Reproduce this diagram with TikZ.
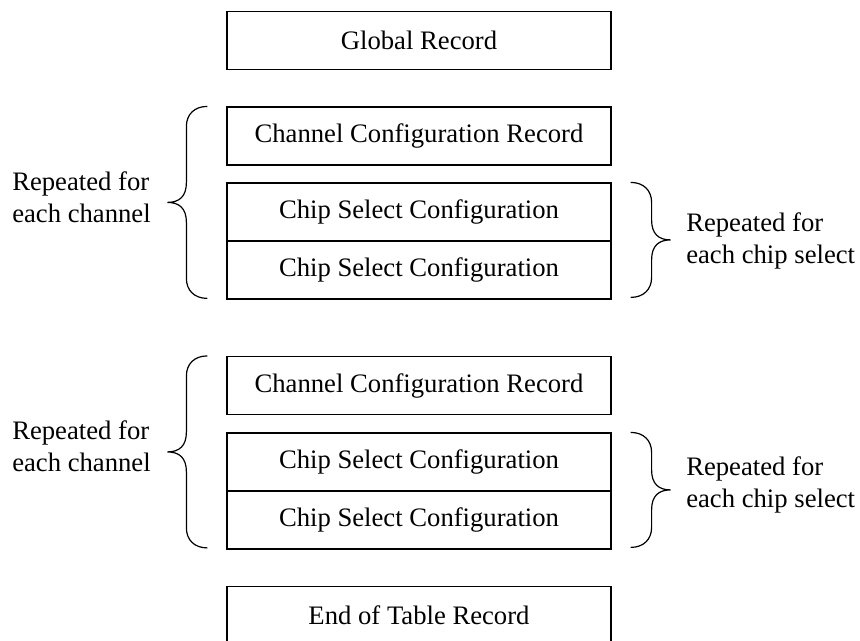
\documentclass[tikz,border=0pt]{standalone}
\usepackage{fontspec}
\setmainfont{Liberation Serif}

\begin{document}
\begin{tikzpicture}[x=0.75pt, y=-0.75pt,
  record/.style={draw, line width=0.9pt, minimum width=288pt, minimum height=43.5pt,
    inner sep=0pt, font=\fontsize{20}{24}\selectfont},
  note/.style={align=left, anchor=west, inner sep=0pt, font=\fontsize{20}{24}\selectfont},
  curly/.style={line width=0.9pt},
  % a curly brace drawn downward from its top end, opening towards +x;
  % #1 is the length of each straight stretch
  curlbrace/.style={insert path={
    .. controls +(-13,0) and +(0,-12) .. ++(-21,20)
    -- ++(0,#1)
    .. controls +(0,14) and +(12,0) .. ++(-19,20)
    .. controls +(12,0) and +(0,-14) .. ++(19,20)
    -- ++(0,#1)
    .. controls +(0,12) and +(-13,0) .. ++(21,20)}}]
  \useasboundingbox (0,0) rectangle (860,640);

  % record boxes
  \node[record] (glob) at (419,40.5) {Global Record};

  \node[record] (ch1)  at (419,136) {Channel Configuration Record};
  \node[record] (cs1a) at (419,212) {Chip Select Configuration};
  \node[record] (cs1b) at (419,270) {Chip Select Configuration};

  \node[record] (ch2)  at (419,385.5) {Channel Configuration Record};
  \node[record] (cs2a) at (419,462) {Chip Select Configuration};
  \node[record] (cs2b) at (419,520) {Chip Select Configuration};

  \node[record] (eot)  at (419,615.5) {End of Table Record};

  % top ends of the braces
  \coordinate (b1) at ([xshift=-14.25pt]ch1.north west);
  \coordinate (b2) at ([xshift=-14.25pt]ch2.north west);
  \coordinate (b3) at ([xshift=14.25pt]cs1a.north east);
  \coordinate (b4) at ([xshift=14.25pt]cs2a.north east);

  % braces for the channel groups
  \draw[curly] (b1) [curlbrace=56];
  \draw[curly] (b2) [curlbrace=56];

  % braces for the chip select groups
  \draw[curly, xscale=-1] (b3) [curlbrace=17.5];
  \draw[curly, xscale=-1] (b4) [curlbrace=17.5];

  % labels
  \node[note] (rep1) at (12,197) {Repeated for\\each channel};
  \node[note] (rep2) at (12,446) {Repeated for\\each channel};
  \node[note] (rcs1) at (686,241) {Repeated for\\each chip select};
  \node[note] (rcs2) at (686,485) {Repeated for\\each chip select};
\end{tikzpicture}
\end{document}
